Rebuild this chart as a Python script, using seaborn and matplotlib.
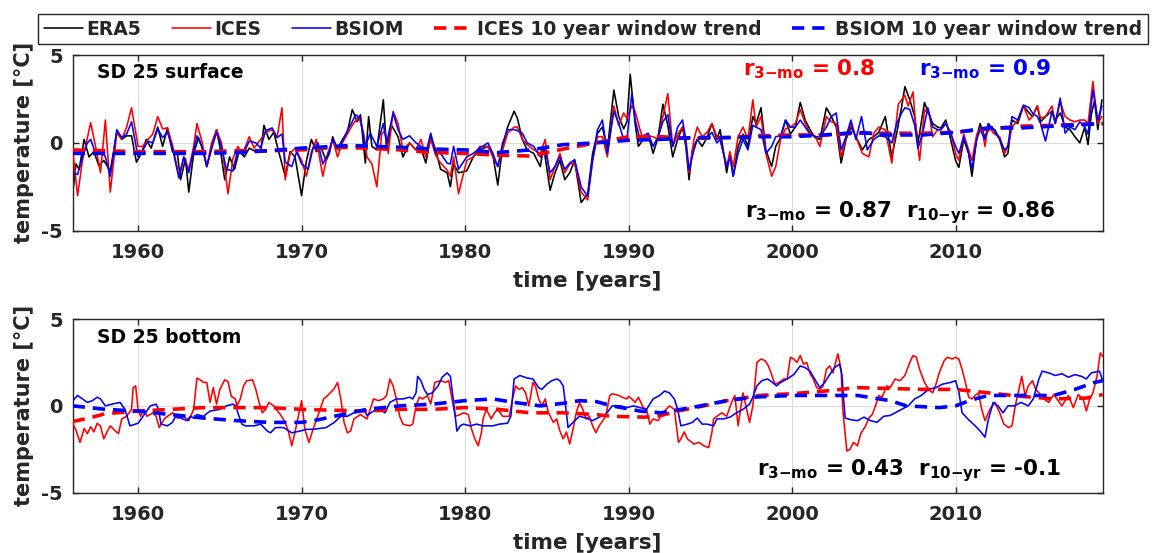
import matplotlib
matplotlib.use("Agg")
import matplotlib.pyplot as plt
import seaborn as sns
import pandas as pd

# ---------------- data (year, temperature anomaly) ----------------
era5_top = [(1956.0,-2.9),(1956.2,-1.2),(1956.4,-1.5),(1956.7,0.2),(1957.0,-0.8),(1957.3,-0.5),(1957.6,-1.3),(1957.9,-1.0),(1958.3,-1.6),(1958.7,0.6),(1959.0,0.2),(1959.3,0.4),(1959.6,0.4),(1959.9,-1.1),(1960.2,-0.6),(1960.5,0.2),(1960.8,-0.3),(1961.2,0.9),(1961.5,-0.2),(1961.8,0.85),(1962.1,-0.5),(1962.4,-0.6),(1962.6,-2.1),(1962.9,-0.9),(1963.1,-2.8),(1963.4,-0.6),(1963.7,0.3),(1964.0,-0.5),(1964.2,-1.35),(1964.5,-0.3),(1964.8,0.75),(1965.0,-0.2),(1965.3,-2.1),(1965.6,-0.8),(1965.9,-1.5),(1966.2,-0.4),(1966.5,-0.8),(1966.8,-0.3),(1967.2,-0.5),(1967.5,-0.5),(1967.7,1.0),(1968.0,0.2),(1968.3,0.6),(1968.6,-0.5),(1969.0,-1.9),(1969.3,-0.5),(1969.6,-0.8),(1970.0,-3.0),(1970.3,-1.0),(1970.6,0.2),(1970.9,-0.5),(1971.2,-0.3),(1971.5,-1.0),(1971.7,-0.6),(1971.9,0.35),(1972.2,-0.4),(1972.5,0.2),(1972.8,0.6),(1973.1,1.9),(1973.4,1.2),(1973.6,1.6),(1973.9,-1.15),(1974.1,1.5),(1974.3,-0.2),(1974.6,-0.4),(1975.0,2.45),(1975.2,-0.4),(1975.5,1.0),(1975.9,0.35),(1976.2,-0.8),(1976.6,0.0),(1977.0,-0.4),(1977.3,-0.3),(1977.6,-1.15),(1977.9,0.35),(1978.2,-0.4),(1978.5,-1.5),(1978.9,-1.7),(1979.1,-2.5),(1979.3,-1.2),(1979.6,-1.7),(1980.1,-1.6),(1980.5,-0.8),(1980.9,-0.4),(1981.4,-0.2),(1981.7,-0.7),(1982.0,-2.4),(1982.3,-0.2),(1982.6,0.9),(1983.0,1.8),(1983.2,1.4),(1983.5,0.2),(1983.8,-0.4),(1984.2,-0.6),(1984.6,-1.35),(1984.8,-0.2),(1985.2,-2.7),(1985.5,-1.7),(1985.8,-1.0),(1986.1,-2.1),(1986.4,-1.7),(1986.7,-1.0),(1987.1,-3.4),(1987.5,-2.9),(1987.8,-0.6),(1988.1,0.55),(1988.4,0.9),(1988.7,-0.4),(1989.1,3.0),(1989.4,1.5),(1989.7,0.8),(1989.9,1.2),(1990.1,3.9),(1990.4,1.1),(1990.6,-0.2),(1990.9,0.2),(1991.2,0.5),(1991.5,-0.6),(1991.8,0.3),(1992.1,2.2),(1992.4,1.0),(1992.7,-0.8),(1993.0,0.2),(1993.3,0.9),(1993.5,-0.2),(1993.7,-2.1),(1993.9,-0.4),(1994.2,0.2),(1994.5,-0.2),(1994.8,0.3),(1995.1,1.1),(1995.4,0.2),(1995.6,0.75),(1996.0,-1.7),(1996.2,-0.6),(1996.4,-1.9),(1996.7,-0.2),(1997.0,0.5),(1997.3,-0.2),(1997.6,1.5),(1997.8,1.1),(1998.1,2.0),(1998.4,-0.4),(1998.75,-1.35),(1999.0,-0.2),(1999.3,0.3),(1999.6,1.3),(1999.9,0.5),(2000.2,0.9),(2000.5,2.3),(2000.8,1.3),(2001.1,0.75),(2001.4,0.3),(2001.7,0.2),(2002.1,2.0),(2002.4,1.5),(2002.7,0.9),(2003.0,-1.15),(2003.3,0.2),(2003.6,0.9),(2003.9,0.35),(2004.3,-0.4),(2004.7,0.2),(2005.0,0.35),(2005.3,0.6),(2005.7,1.5),(2006.1,-0.8),(2006.4,0.55),(2006.7,2.05),(2006.9,3.2),(2007.2,2.45),(2007.5,1.5),(2007.7,0.0),(2008.1,2.3),(2008.3,1.8),(2008.6,1.1),(2008.9,0.9),(2009.1,0.85),(2009.4,1.3),(2009.7,0.2),(2010.0,-1.0),(2010.2,-1.4),(2010.5,0.2),(2010.8,-0.6),(2011.0,-1.9),(2011.3,0.35),(2011.5,1.1),(2011.8,0.3),(2012.1,0.9),(2012.4,0.75),(2012.7,0.2),(2013.0,-0.8),(2013.2,-0.6),(2013.45,1.3),(2013.8,1.1),(2014.15,2.1),(2014.5,1.7),(2014.7,1.5),(2015.0,2.1),(2015.2,1.2),(2015.5,1.5),(2015.9,1.8),(2016.1,1.3),(2016.4,1.7),(2016.7,0.9),(2017.0,0.75),(2017.3,0.35),(2017.6,0.0),(2017.9,0.9),(2018.1,-0.1),(2018.3,1.6),(2018.5,2.4),(2018.7,0.75),(2018.95,2.45)]

ices_top = [(1956.0,-0.4),(1956.3,-3.0),(1956.6,-1.0),(1956.9,0.3),(1957.1,1.15),(1957.4,-0.2),(1957.7,-1.7),(1958.0,1.3),(1958.3,-2.8),(1958.7,0.6),(1959.0,0.2),(1959.3,0.9),(1959.6,2.0),(1960.0,-0.2),(1960.3,-0.2),(1960.6,0.2),(1960.9,0.5),(1961.2,1.5),(1961.5,0.8),(1961.8,0.85),(1962.1,-0.1),(1962.5,-1.9),(1962.8,-0.8),(1963.1,-1.5),(1963.4,-0.2),(1963.6,1.1),(1963.9,0.1),(1964.2,-1.35),(1964.5,0.0),(1964.8,0.75),(1965.1,0.0),(1965.5,-2.9),(1965.8,-0.9),(1966.1,-0.2),(1966.4,-0.6),(1966.8,0.35),(1967.1,-0.3),(1967.5,0.2),(1967.8,0.6),(1968.2,0.75),(1968.5,0.3),(1968.8,2.0),(1969.0,-2.1),(1969.3,-0.6),(1969.6,-0.3),(1970.0,-1.0),(1970.3,-1.9),(1970.6,-0.5),(1970.9,0.2),(1971.3,-1.9),(1971.6,-0.6),(1971.9,0.2),(1972.2,-0.8),(1972.5,0.0),(1972.8,0.5),(1973.1,1.0),(1973.5,1.5),(1973.8,0.5),(1974.0,-0.8),(1974.3,-1.2),(1974.6,-2.5),(1974.9,0.5),(1975.1,0.7),(1975.3,-0.6),(1975.6,1.8),(1975.9,1.1),(1976.2,-0.4),(1976.6,0.0),(1977.0,-0.4),(1977.3,0.2),(1977.6,-0.8),(1977.9,0.2),(1978.2,-0.7),(1978.5,-1.15),(1978.9,-1.55),(1979.1,-1.9),(1979.3,-0.8),(1979.6,-2.9),(1980.1,-1.0),(1980.5,-0.8),(1980.9,-0.2),(1981.4,-0.2),(1981.7,-0.8),(1982.0,-1.35),(1982.3,-0.4),(1982.6,0.55),(1983.0,0.9),(1983.2,0.9),(1983.5,0.2),(1983.8,-0.1),(1984.2,-0.4),(1984.6,-0.6),(1984.9,0.2),(1985.2,-2.1),(1985.5,-1.35),(1985.8,-0.6),(1986.1,-1.7),(1986.4,-1.2),(1986.7,-1.15),(1987.1,-2.8),(1987.5,-3.25),(1987.8,-1.0),(1988.1,0.35),(1988.4,0.35),(1988.7,-0.8),(1989.1,2.1),(1989.4,1.0),(1989.7,1.7),(1989.9,1.4),(1990.2,2.1),(1990.4,1.8),(1990.7,0.75),(1990.9,0.2),(1991.2,0.4),(1991.5,0.35),(1991.8,0.2),(1992.1,1.5),(1992.4,2.8),(1992.7,-0.2),(1993.0,0.5),(1993.3,0.9),(1993.5,0.0),(1993.7,-1.7),(1994.0,0.2),(1994.2,0.9),(1994.5,0.35),(1994.8,0.6),(1995.1,1.1),(1995.4,0.35),(1995.6,0.2),(1996.0,-1.35),(1996.2,-0.5),(1996.4,-1.35),(1996.7,0.35),(1997.0,0.9),(1997.3,0.2),(1997.6,2.45),(1997.8,0.9),(1998.1,1.5),(1998.4,-0.6),(1998.75,-1.9),(1999.0,-1.35),(1999.3,0.2),(1999.6,0.8),(1999.9,0.9),(2000.2,1.1),(2000.5,1.9),(2000.8,1.1),(2001.1,0.55),(2001.4,0.4),(2001.7,-0.2),(2002.1,1.5),(2002.4,1.2),(2002.7,1.1),(2003.0,-0.8),(2003.3,0.3),(2003.6,1.1),(2003.9,0.35),(2004.3,-0.6),(2004.7,-0.8),(2005.0,0.55),(2005.3,0.9),(2005.7,0.75),(2006.1,-1.15),(2006.3,0.6),(2006.5,2.2),(2006.9,2.7),(2007.1,2.1),(2007.4,2.9),(2007.6,0.5),(2007.8,-1.0),(2008.1,1.9),(2008.4,1.6),(2008.6,0.35),(2008.9,0.75),(2009.1,0.75),(2009.4,1.1),(2009.7,0.6),(2010.0,-0.6),(2010.2,-1.0),(2010.5,0.5),(2010.8,-0.4),(2011.0,-1.0),(2011.3,0.5),(2011.6,0.9),(2011.8,-0.2),(2012.0,1.1),(2012.3,0.55),(2012.7,0.35),(2013.0,-0.6),(2013.2,-0.2),(2013.45,0.9),(2013.8,1.3),(2014.15,2.1),(2014.5,1.3),(2014.7,1.5),(2015.0,2.1),(2015.2,1.4),(2015.5,1.5),(2015.9,2.1),(2016.1,1.1),(2016.4,2.35),(2016.7,1.5),(2017.0,1.3),(2017.3,1.2),(2017.6,1.3),(2017.9,1.3),(2018.1,1.1),(2018.4,3.5),(2018.7,1.1),(2018.95,1.5)]

bsiom_top = [(1956.0,-1.7),(1956.3,-1.8),(1956.6,-0.8),(1956.9,0.0),(1957.1,0.2),(1957.4,-0.6),(1957.7,-0.4),(1958.0,-0.8),(1958.3,-1.9),(1958.7,0.75),(1959.0,0.3),(1959.3,0.5),(1959.6,1.2),(1960.0,-0.8),(1960.3,-0.4),(1960.6,0.1),(1960.9,0.0),(1961.2,0.8),(1961.5,0.3),(1961.8,0.6),(1962.1,-0.3),(1962.5,-2.0),(1962.8,-0.8),(1963.1,-1.7),(1963.4,-0.4),(1963.6,0.4),(1963.9,-0.2),(1964.2,-1.35),(1964.5,-0.3),(1964.8,0.6),(1965.1,-0.2),(1965.4,-1.5),(1965.8,-1.6),(1966.1,-0.4),(1966.4,-0.7),(1966.8,0.1),(1967.2,0.0),(1967.5,-0.3),(1967.8,0.7),(1968.2,0.85),(1968.5,0.3),(1968.8,0.5),(1969.0,-1.1),(1969.4,-1.35),(1969.7,-0.5),(1970.0,-1.2),(1970.4,-1.5),(1970.7,-0.3),(1971.0,0.0),(1971.3,-1.2),(1971.7,-0.5),(1971.9,0.2),(1972.2,-0.3),(1972.5,0.1),(1972.8,0.7),(1973.1,1.2),(1973.3,1.6),(1973.6,1.4),(1973.9,-0.2),(1974.2,0.55),(1974.6,-0.2),(1975.0,1.1),(1975.2,0.0),(1975.6,1.7),(1975.9,0.75),(1976.2,0.2),(1976.6,0.4),(1977.0,0.0),(1977.3,-0.2),(1977.6,-0.6),(1977.9,0.55),(1978.2,-0.6),(1978.5,-0.6),(1978.9,-1.15),(1979.1,-1.2),(1979.3,-0.2),(1979.6,-1.5),(1980.1,-0.8),(1980.5,-0.6),(1980.9,-0.3),(1981.4,0.0),(1981.7,-0.6),(1982.0,-1.35),(1982.3,0.0),(1982.6,0.75),(1983.0,0.75),(1983.2,0.7),(1983.5,0.55),(1983.8,0.0),(1984.2,-0.2),(1984.6,-0.8),(1984.9,-0.4),(1985.2,-1.7),(1985.5,-1.35),(1985.8,-0.8),(1986.1,-1.5),(1986.4,-1.15),(1986.7,-0.95),(1987.1,-2.5),(1987.5,-3.05),(1987.8,-1.0),(1988.1,0.75),(1988.4,1.3),(1988.7,-0.6),(1989.1,1.8),(1989.4,1.1),(1989.7,0.2),(1989.9,0.2),(1990.2,2.8),(1990.4,1.3),(1990.7,0.2),(1990.9,0.4),(1991.2,0.55),(1991.5,-0.2),(1991.8,0.35),(1992.1,1.2),(1992.4,1.6),(1992.7,-0.2),(1993.0,0.9),(1993.3,1.3),(1993.5,0.2),(1993.7,-1.55),(1994.0,-0.4),(1994.2,0.2),(1994.5,0.35),(1994.8,0.3),(1995.1,0.6),(1995.4,0.0),(1995.6,0.2),(1996.0,-1.35),(1996.2,-0.8),(1996.4,-1.9),(1996.7,-0.6),(1997.0,0.2),(1997.3,-0.4),(1997.6,1.0),(1997.8,0.9),(1998.1,0.75),(1998.4,-0.6),(1998.75,-0.2),(1999.0,0.35),(1999.3,0.4),(1999.6,1.3),(1999.9,0.9),(2000.2,0.9),(2000.5,1.3),(2000.8,0.9),(2001.1,0.5),(2001.4,0.35),(2001.7,0.35),(2002.1,0.9),(2002.4,1.5),(2002.7,1.7),(2003.0,-0.4),(2003.3,0.35),(2003.6,1.3),(2003.9,0.2),(2004.25,1.5),(2004.6,-0.4),(2005.0,0.2),(2005.3,0.4),(2005.7,0.35),(2006.1,0.0),(2006.4,1.1),(2006.7,1.7),(2006.9,2.0),(2007.2,1.9),(2007.5,1.0),(2007.7,-0.3),(2008.0,0.6),(2008.3,2.0),(2008.6,0.9),(2008.9,0.75),(2009.1,0.75),(2009.4,1.1),(2009.7,0.55),(2010.0,-0.2),(2010.2,-0.6),(2010.5,0.35),(2010.8,-0.6),(2011.0,-1.45),(2011.3,0.2),(2011.5,0.75),(2011.8,0.2),(2012.0,1.1),(2012.3,0.75),(2012.7,0.2),(2013.0,-0.4),(2013.2,-0.2),(2013.45,1.5),(2013.8,1.3),(2014.15,2.15),(2014.5,2.0),(2014.7,1.7),(2015.0,1.5),(2015.2,1.1),(2015.5,0.1),(2015.9,1.8),(2016.1,1.1),(2016.4,2.55),(2016.7,0.55),(2017.0,0.9),(2017.3,0.75),(2017.6,1.2),(2017.9,0.9),(2018.1,0.5),(2018.4,3.0),(2018.7,1.3),(2018.95,2.1)]

ices_trend_top = [(1956,-0.4),(1958,-0.45),(1960,-0.5),(1962,-0.5),(1964,-0.5),(1966,-0.45),(1968,-0.45),(1970,-0.4),(1972,-0.25),(1974,-0.3),(1976,-0.4),(1978,-0.55),(1980,-0.6),(1982,-0.7),(1984,-0.75),(1986,-0.35),(1988,0.0),(1990,0.35),(1992,0.35),(1994,0.25),(1996,0.3),(1998,0.4),(2000,0.45),(2002,0.45),(2004,0.55),(2006,0.55),(2008,0.55),(2010,0.6),(2012,0.8),(2014,0.95),(2016,1.0),(2019,1.1)]

bsiom_trend_top = [(1956,-0.6),(1960,-0.6),(1964,-0.6),(1966,-0.55),(1968,-0.45),(1970,-0.3),(1972,-0.2),(1973,-0.15),(1976,-0.25),(1978,-0.35),(1980,-0.4),(1982,-0.55),(1984,-0.4),(1986,-0.1),(1988,0.0),(1990,0.15),(1992,0.2),(1994,0.3),(1996,0.3),(1998,0.35),(2000,0.35),(2002,0.45),(2004,0.6),(2006,0.45),(2008,0.45),(2010,0.6),(2012,0.85),(2014,0.85),(2016,0.95),(2019,1.1)]

ices_bottom = [(1956.0,-1.0),(1956.2,-1.4),(1956.45,-2.1),(1956.7,-1.3),(1956.9,-1.6),(1957.1,-1.2),(1957.3,-1.5),(1957.5,-1.0),(1957.7,-1.15),(1957.9,-1.9),(1958.1,-1.5),(1958.3,-1.15),(1958.5,-1.35),(1958.8,-1.6),(1959.0,-0.75),(1959.3,-0.6),(1959.6,-0.2),(1959.7,1.05),(1959.85,1.15),(1960.0,-0.2),(1960.15,-0.6),(1960.35,-0.2),(1960.55,-0.6),(1960.9,-0.4),(1961.1,-0.6),(1961.3,-1.25),(1961.6,-0.75),(1961.8,-0.6),(1962.1,-0.4),(1962.4,-0.7),(1962.8,-0.6),(1963.1,-0.85),(1963.4,-0.2),(1963.6,1.6),(1963.8,1.5),(1964.0,1.35),(1964.2,1.35),(1964.4,0.2),(1964.6,1.05),(1964.8,0.1),(1965.0,0.95),(1965.3,1.5),(1965.5,1.4),(1965.7,0.55),(1965.95,0.4),(1966.05,0.0),(1966.25,0.4),(1966.45,1.15),(1966.65,1.45),(1967.0,1.5),(1967.2,0.95),(1967.4,0.2),(1967.6,-0.4),(1967.8,-0.2),(1968.0,0.2),(1968.3,0.0),(1968.7,-0.5),(1969.0,-0.95),(1969.2,-1.5),(1969.4,-2.3),(1969.6,-1.5),(1969.8,-0.6),(1970.0,0.3),(1970.2,-1.35),(1970.45,-2.1),(1970.7,-1.35),(1971.1,-0.3),(1971.35,0.4),(1971.6,0.6),(1972.0,1.0),(1972.2,1.35),(1972.4,0.4),(1972.6,-0.95),(1972.8,-1.55),(1973.0,-1.45),(1973.2,-0.75),(1973.6,-0.5),(1974.0,-0.75),(1974.2,-0.2),(1974.4,0.4),(1974.7,0.3),(1975.0,0.4),(1975.2,0.6),(1975.4,1.55),(1975.6,1.15),(1975.8,0.4),(1976.0,-0.6),(1976.2,-1.05),(1976.6,-1.15),(1976.8,-1.05),(1977.0,0.0),(1977.2,0.5),(1977.4,0.4),(1977.7,0.6),(1977.9,0.1),(1978.15,1.35),(1978.5,1.45),(1978.8,1.35),(1979.0,1.45),(1979.2,0.4),(1979.4,-0.6),(1979.7,-0.5),(1979.9,-0.4),(1980.2,-0.5),(1980.4,-1.35),(1980.6,-1.9),(1980.8,-2.3),(1981.0,-1.55),(1981.1,-0.75),(1981.3,-0.2),(1981.6,-0.75),(1981.8,-0.4),(1982.0,-0.2),(1982.3,-0.6),(1982.7,-0.6),(1982.9,0.4),(1983.1,1.15),(1983.3,0.95),(1983.5,1.05),(1983.7,0.75),(1983.9,0.0),(1984.15,1.35),(1984.3,1.15),(1984.5,0.4),(1984.7,0.0),(1984.9,0.4),(1985.1,-0.4),(1985.4,-0.95),(1985.6,-0.75),(1985.8,-1.45),(1986.0,-1.9),(1986.2,-1.5),(1986.4,-2.2),(1986.6,-1.35),(1986.8,-0.4),(1987.0,0.2),(1987.2,-0.2),(1987.4,-0.75),(1987.6,-0.6),(1987.8,-1.15),(1988.0,-1.55),(1988.2,-1.15),(1988.6,-0.6),(1988.85,0.6),(1989.0,0.7),(1989.4,0.6),(1989.6,0.5),(1989.9,0.4),(1990.0,0.55),(1990.2,0.4),(1990.4,0.2),(1990.6,0.5),(1990.9,-0.1),(1991.1,-0.2),(1991.3,-1.05),(1991.5,-0.75),(1991.8,-0.85),(1992.1,-0.4),(1992.5,0.0),(1992.8,-0.2),(1993.05,-2.1),(1993.2,-1.9),(1993.4,-1.5),(1993.6,-1.9),(1994.0,-2.2),(1994.3,-2.1),(1994.6,-2.3),(1994.9,-2.4),(1995.1,-1.5),(1995.2,-0.75),(1995.4,-0.6),(1995.7,-0.4),(1996.0,-0.6),(1996.3,0.2),(1996.5,0.6),(1996.7,-1.15),(1997.0,0.75),(1997.4,-0.95),(1997.6,0.0),(1997.85,2.5),(1998.1,2.7),(1998.35,2.6),(1998.55,2.3),(1998.75,1.8),(1998.95,1.25),(1999.2,1.35),(1999.5,1.55),(1999.7,1.55),(1999.9,2.8),(2000.1,2.7),(2000.3,2.5),(2000.5,2.9),(2000.7,2.4),(2000.9,2.5),(2001.1,1.85),(2001.3,1.55),(2001.5,1.05),(2001.7,0.95),(2001.9,1.15),(2002.1,2.1),(2002.3,2.3),(2002.5,1.9),(2002.8,3.0),(2003.0,2.1),(2003.1,-0.2),(2003.35,-2.6),(2003.55,-2.5),(2003.75,-2.1),(2004.0,-2.3),(2004.2,-1.6),(2004.5,-1.15),(2004.7,-0.7),(2004.9,-0.5),(2005.1,0.0),(2005.3,0.6),(2005.5,0.5),(2005.8,1.15),(2006.0,1.05),(2006.3,1.55),(2006.6,1.45),(2006.9,1.75),(2007.2,2.5),(2007.4,2.9),(2007.6,2.8),(2007.8,2.1),(2008.1,1.35),(2008.35,0.95),(2008.6,0.75),(2008.8,1.25),(2009.0,1.9),(2009.3,2.6),(2009.5,2.8),(2009.8,2.7),(2010.0,2.8),(2010.2,2.7),(2010.4,2.1),(2010.6,1.35),(2010.8,0.5),(2011.0,0.4),(2011.2,0.6),(2011.4,0.75),(2011.6,-0.2),(2011.8,-0.85),(2012.1,-0.2),(2012.4,0.2),(2012.7,-0.4),(2012.95,-1.05),(2013.25,-1.25),(2013.45,-1.15),(2013.65,0.0),(2013.85,0.85),(2014.05,1.7),(2014.25,0.6),(2014.45,1.15),(2014.7,1.45),(2014.9,0.95),(2015.1,0.75),(2015.4,0.4),(2015.7,0.2),(2016.0,0.65),(2016.2,0.4),(2016.5,0.0),(2016.7,0.3),(2016.9,0.6),(2017.2,-0.1),(2017.5,0.65),(2017.8,0.4),(2018.0,-0.3),(2018.2,0.4),(2018.4,0.75),(2018.65,1.7),(2018.85,3.05),(2019.0,2.85)]

bsiom_bottom = [(1956.0,0.3),(1956.3,0.6),(1956.6,0.4),(1956.9,0.2),(1957.2,0.3),(1957.5,0.5),(1957.7,0.4),(1958.0,0.0),(1958.4,0.1),(1958.9,0.2),(1959.2,-0.2),(1959.5,-1.15),(1960.0,-1.0),(1960.3,-0.6),(1960.75,0.0),(1961.1,0.1),(1961.25,-0.2),(1961.4,-1.05),(1961.8,-1.15),(1962.1,-0.95),(1962.3,-0.6),(1962.6,-0.7),(1963.0,-0.85),(1963.2,-0.6),(1963.4,-0.7),(1963.6,-0.5),(1964.0,-0.6),(1964.4,-0.3),(1965.0,-0.2),(1965.4,0.0),(1965.8,0.1),(1966.0,0.0),(1966.1,-0.4),(1966.35,-1.05),(1966.55,-1.15),(1967.1,-1.15),(1967.5,-1.05),(1967.9,-1.45),(1968.1,-1.55),(1968.4,-1.25),(1968.9,-1.25),(1969.4,-1.55),(1969.9,-1.45),(1970.3,-1.35),(1970.7,-1.35),(1971.5,-1.25),(1972.0,-0.95),(1972.4,-0.6),(1972.8,-0.6),(1973.2,-0.4),(1973.8,-0.2),(1974.0,-0.55),(1974.4,-0.3),(1974.8,-0.2),(1975.1,-0.4),(1975.4,0.2),(1975.8,0.4),(1976.2,0.4),(1976.6,0.5),(1976.8,0.4),(1977.0,0.75),(1977.1,1.7),(1977.3,1.45),(1977.5,0.95),(1977.7,0.65),(1978.0,0.75),(1978.35,1.15),(1978.6,1.65),(1978.9,1.9),(1979.1,1.7),(1979.3,0.2),(1979.5,-1.45),(1979.7,-1.15),(1979.9,-1.05),(1980.3,-1.15),(1980.7,-1.05),(1981.1,-1.15),(1981.7,-1.15),(1982.1,-1.05),(1982.6,-1.0),(1982.8,-0.6),(1983.0,1.55),(1983.35,1.75),(1983.8,1.6),(1984.15,1.55),(1984.5,1.05),(1984.7,0.95),(1985.0,1.25),(1985.3,1.45),(1985.6,1.55),(1985.8,1.45),(1986.0,1.15),(1986.1,0.4),(1986.3,-1.25),(1986.6,-0.95),(1987.0,-0.6),(1987.4,-0.7),(1987.8,-0.85),(1988.2,-0.65),(1988.6,-0.5),(1989.0,0.0),(1989.5,0.0),(1989.9,-0.1),(1990.3,0.0),(1990.7,-0.1),(1991.1,-0.2),(1991.5,0.4),(1991.9,0.6),(1992.2,0.85),(1992.5,0.75),(1992.8,0.4),(1993.0,-0.2),(1993.2,-1.15),(1993.6,-1.05),(1993.9,-0.95),(1994.2,-0.7),(1994.5,-1.05),(1994.8,-1.05),(1995.2,-1.15),(1995.4,-0.75),(1995.8,-0.75),(1996.2,-0.65),(1996.6,-0.4),(1997.0,-0.2),(1997.4,0.1),(1997.6,0.5),(1997.85,1.15),(1998.15,1.45),(1998.5,1.55),(1998.8,1.35),(1999.05,1.15),(1999.3,1.35),(1999.7,1.55),(2000.1,1.8),(2000.5,2.3),(2000.8,2.2),(2001.1,2.0),(2001.5,1.35),(2001.7,1.05),(2002.0,1.35),(2002.3,1.8),(2002.6,2.2),(2002.9,2.4),(2003.05,1.8),(2003.15,0.4),(2003.25,-0.7),(2003.6,-0.8),(2004.0,-0.85),(2004.4,-0.65),(2004.8,-0.85),(2005.2,-0.95),(2005.6,-0.6),(2006.0,-0.55),(2006.3,-0.4),(2006.7,-0.2),(2007.1,0.0),(2007.5,0.4),(2007.9,0.6),(2008.35,0.95),(2008.8,1.05),(2009.2,1.25),(2009.7,1.35),(2010.0,1.45),(2010.2,0.8),(2010.4,-0.4),(2010.8,-0.8),(2011.2,-1.15),(2011.5,-1.45),(2011.8,-1.8),(2012.0,-0.8),(2012.3,0.2),(2012.6,0.0),(2012.9,-0.4),(2013.2,0.0),(2013.6,0.0),(2014.0,0.2),(2014.45,0.0),(2014.75,0.4),(2015.1,1.55),(2015.3,2.0),(2015.7,1.9),(2016.1,1.75),(2016.5,1.85),(2016.9,1.65),(2017.3,1.8),(2017.7,1.7),(2018.0,1.55),(2018.3,1.9),(2018.8,2.0),(2019.0,1.45)]

ices_trend_bottom = [(1956,-0.9),(1957,-0.7),(1958,-0.45),(1960,-0.3),(1962,-0.2),(1964,-0.1),(1966,-0.1),(1968,-0.1),(1970,-0.2),(1972,-0.25),(1974,-0.3),(1976,-0.2),(1978,-0.2),(1980,-0.1),(1982,-0.2),(1984,-0.4),(1986,-0.4),(1988,-0.5),(1989,-0.6),(1991,-0.65),(1992,-0.55),(1993,-0.3),(1994.6,0.0),(1996,0.3),(1998,0.6),(2000,0.7),(2002,0.85),(2004,1.05),(2006,1.0),(2008,0.95),(2010,0.95),(2012,0.75),(2014,0.55),(2016,0.4),(2018,0.45),(2019,0.65)]

bsiom_trend_bottom = [(1956,0.0),(1957,-0.1),(1958,-0.2),(1960,-0.3),(1962,-0.5),(1964,-0.7),(1966,-0.85),(1968,-0.95),(1970,-0.95),(1971,-0.8),(1972,-0.6),(1973,-0.4),(1974,-0.2),(1976,0.0),(1978,0.1),(1980,0.3),(1981.7,0.4),(1983,0.2),(1984.6,0.0),(1986,0.15),(1987,0.3),(1988,0.25),(1989,0.0),(1990.7,-0.3),(1992,-0.4),(1993.2,-0.2),(1994.4,0.0),(1996,0.3),(1997.6,0.5),(2000,0.6),(2002,0.6),(2004,0.6),(2005,0.45),(2006,0.3),(2007,0.0),(2009,-0.1),(2010,0.0),(2011,0.35),(2012,0.6),(2014,0.6),(2016,0.6),(2017.3,0.95),(2018.5,1.35),(2019,1.45)]

series_labels = ["ERA5", "ICES", "BSIOM", "ICES 10 year window trend", "BSIOM 10 year window trend"]
x_ticks = [1960, 1970, 1980, 1990, 2000, 2010]
y_ticks = [-5, 0, 5]
panel_titles = ["SD 25 surface", "SD 25 bottom"]

# ---------------- style ----------------
sns.set_theme(style="white")
plt.rcParams["font.family"] = ["DejaVu Sans"]
plt.rcParams["font.weight"] = "bold"
plt.rcParams["axes.labelweight"] = "bold"
plt.rcParams["mathtext.fontset"] = "dejavusans"
plt.rcParams["mathtext.default"] = "bf"

RED = "#ff0000"
BLUE = "#0000ff"
DASH = (3.4, 2.2)
TXT = "#262626"

fig = plt.figure(figsize=(11.61, 5.53), dpi=100)
ax1 = fig.add_axes([0.0626, 0.5828, 0.8872, 0.3177])
ax2 = fig.add_axes([0.0626, 0.1090, 0.8872, 0.3141])


def df(pairs):
    return pd.DataFrame(pairs, columns=["year", "temp"])


def draw(ax, pairs, color, lw, dashed=False, z=2):
    sns.lineplot(data=df(pairs), x="year", y="temp", ax=ax, color=color,
                 linewidth=lw, estimator=None, sort=False, legend=False, zorder=z)
    ln = ax.lines[-1]
    if dashed:
        ln.set_dashes(DASH)
        ln.set_dash_capstyle("butt")


draw(ax1, era5_top, "black", 1.15, z=2)
draw(ax1, ices_top, RED, 1.15, z=3)
draw(ax1, bsiom_top, BLUE, 1.15, z=4)
draw(ax1, ices_trend_top, RED, 2.6, dashed=True, z=5)
draw(ax1, bsiom_trend_top, BLUE, 2.6, dashed=True, z=6)

draw(ax2, ices_bottom, RED, 1.15, z=3)
draw(ax2, bsiom_bottom, BLUE, 1.15, z=4)
draw(ax2, ices_trend_bottom, RED, 2.6, dashed=True, z=5)
draw(ax2, bsiom_trend_bottom, BLUE, 2.6, dashed=True, z=6)

for ax in (ax1, ax2):
    ax.set_xlim(1956, 2019)
    ax.set_ylim(-5, 5)
    ax.set_xticks(x_ticks)
    ax.set_yticks(y_ticks)
    ax.set_yticklabels([str(v) for v in y_ticks])
    ax.grid(True, color="#dcdcdc", linewidth=0.8)
    ax.set_axisbelow(True)
    ax.tick_params(direction="in", length=4.5, width=1.0, top=True, right=True,
                   bottom=True, left=True, labelsize=14, colors=TXT)
    ax.tick_params(axis="x", pad=9)
    ax.tick_params(axis="y", pad=7)
    for lab in ax.get_xticklabels() + ax.get_yticklabels():
        lab.set_fontweight("bold")
    for s in ax.spines.values():
        s.set_color(TXT)
        s.set_linewidth(1.0)
    ax.set_xlabel("time [years]", fontsize=15.5, fontweight="bold", color=TXT, labelpad=6)
    ax.set_ylabel("temperature [°C]", fontsize=15, fontweight="bold", color=TXT, labelpad=5)

ax1.text(0.024, 0.898, panel_titles[0], transform=ax1.transAxes, fontsize=13.5,
         fontweight="bold", va="center", ha="left", color="black")
ax2.text(0.024, 0.896, panel_titles[1], transform=ax2.transAxes, fontsize=13.5,
         fontweight="bold", va="center", ha="left", color="black")

RFS = 15.5
ax1.text(0.651, 0.886, r"r$_{3{-}mo}$ = 0.8", transform=ax1.transAxes, fontsize=RFS,
         fontweight="bold", color=RED, va="baseline", ha="left")
ax1.text(0.822, 0.886, r"r$_{3{-}mo}$ = 0.9", transform=ax1.transAxes, fontsize=RFS,
         fontweight="bold", color=BLUE, va="baseline", ha="left")
ax1.text(0.653, 0.078, r"r$_{3{-}mo}$ = 0.87  r$_{10{-}yr}$ = 0.86", transform=ax1.transAxes,
         fontsize=RFS, fontweight="bold", color="black", va="baseline", ha="left")
ax2.text(0.664, 0.102, r"r$_{3{-}mo}$ = 0.43  r$_{10{-}yr}$ = -0.1", transform=ax2.transAxes,
         fontsize=RFS, fontweight="bold", color="black", va="baseline", ha="left")

# legend (outside, top, single row)
handles = [
    plt.Line2D([], [], color="black", lw=1.15),
    plt.Line2D([], [], color=RED, lw=1.15),
    plt.Line2D([], [], color=BLUE, lw=1.15),
    plt.Line2D([], [], color=RED, lw=2.6, dashes=DASH),
    plt.Line2D([], [], color=BLUE, lw=2.6, dashes=DASH),
]
leg = fig.legend(handles, series_labels, loc="upper left",
                 bbox_to_anchor=(38 / 1161, 1 - 14 / 553), ncol=5, frameon=True,
                 fancybox=False, edgecolor=TXT, framealpha=1,
                 prop={"weight": "bold", "size": 13.5}, handlelength=2.1,
                 handletextpad=0.2, columnspacing=1.6, borderpad=0.3,
                 borderaxespad=0)
leg.get_frame().set_linewidth(1.0)

fig.savefig("out.png", dpi=100)
